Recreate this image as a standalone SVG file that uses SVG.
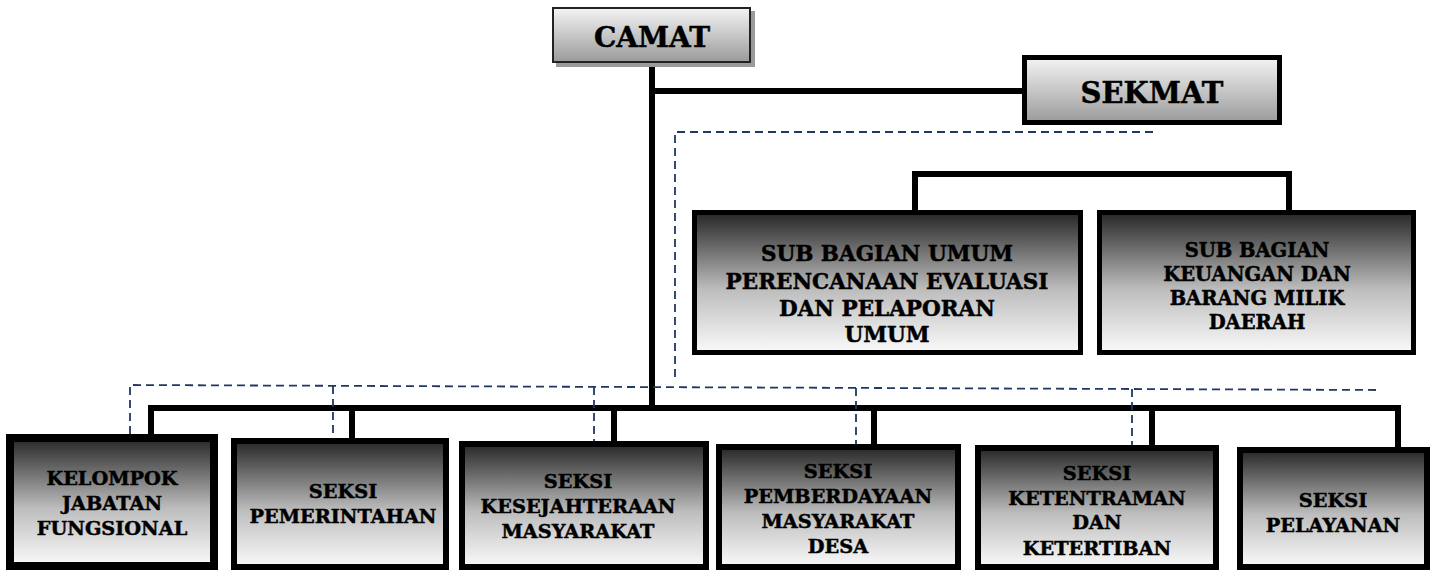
<svg xmlns="http://www.w3.org/2000/svg" width="1436" height="571" viewBox="0 0 1436 571">
<defs>
<linearGradient id="gLight" x1="0" y1="0" x2="0" y2="1">
<stop offset="0" stop-color="#f4f4f4"/>
<stop offset="1" stop-color="#9a9a9a"/>
</linearGradient>
<linearGradient id="gDark" x1="0" y1="0" x2="0" y2="1">
<stop offset="0" stop-color="#262626"/>
<stop offset="0.55" stop-color="#bdbdbd"/>
<stop offset="1" stop-color="#fafafa"/>
</linearGradient>
<style>
text{font-family:"DejaVu Serif","Liberation Serif",serif;font-weight:bold;fill:#000;stroke:#000;stroke-width:0.5;text-anchor:middle}
.box{fill:url(#gDark);stroke:#000}
.line{fill:none;stroke:#000;stroke-width:6;stroke-linejoin:miter;stroke-linecap:butt}
.dash{fill:none;stroke:#1f3864;stroke-width:1.8;stroke-dasharray:8 5}
.t1{font-size:28px}
.t2{font-size:21.5px}
.t3{font-size:19.5px}
.t4{font-size:19.3px}
</style>
</defs>
<g id="connectors">
<path class="line" d="M652,58 V408"/>
<path class="line" d="M652,91 H1024"/>
<path class="line" d="M915,212 V174 H1289 V212"/>
<path class="line" d="M151,455 V408 H1398 V460"/>
<path class="line" d="M352,408 V455"/>
<path class="line" d="M614,408 V455"/>
<path class="line" d="M874,408 V458"/>
<path class="line" d="M1152,408 V458"/>
<path class="dash" d="M675,377 V132 H1158"/>
<path class="dash" d="M130,460 V385 L1378,390"/>
<path class="dash" d="M333,386 V459"/>
<path class="dash" d="M594,387 V463"/>
<path class="dash" d="M856,388 V460"/>
<path class="dash" d="M1132,389 V460"/>
</g>
<g id="camat">
<rect x="556" y="11" width="199" height="56" fill="#9a9a9a"/>
<rect x="553" y="8" width="197" height="54" fill="url(#gLight)" stroke="#222" stroke-width="2"/>
<text class="t1" x="652" y="47">CAMAT</text>
</g>
<g id="sekmat">
<rect x="1024.5" y="57.5" width="255" height="65" fill="url(#gLight)" stroke="#000" stroke-width="5"/>
<text x="1152" y="103" style="font-size:29px">SEKMAT</text>
</g>
<g id="sub-umum">
<rect class="box" x="694.5" y="212.5" width="386" height="140" stroke-width="5"/>
<text class="t2" x="887" y="261">SUB BAGIAN UMUM</text>
<text class="t2" x="887" y="289">PERENCANAAN EVALUASI</text>
<text class="t2" x="887" y="316">DAN PELAPORAN</text>
<text class="t2" x="887" y="342">UMUM</text>
</g>
<g id="sub-keuangan">
<rect class="box" x="1099.5" y="212.5" width="314" height="140" stroke-width="5"/>
<text class="t3" x="1257" y="257">SUB BAGIAN</text>
<text class="t3" x="1257" y="281">KEUANGAN DAN</text>
<text class="t3" x="1257" y="305">BARANG MILIK</text>
<text class="t3" x="1257" y="329">DAERAH</text>
</g>
<g id="kelompok">
<rect class="box" x="10" y="438" width="204" height="128" stroke-width="8"/>
<text class="t4" x="112" y="485">KELOMPOK</text>
<text class="t4" x="112" y="510">JABATAN</text>
<text class="t4" x="112" y="535">FUNGSIONAL</text>
</g>
<g id="pemerintahan">
<rect class="box" x="234" y="441" width="212" height="126" stroke-width="6"/>
<text class="t4" x="343" y="498">SEKSI</text>
<text class="t4" x="343" y="523">PEMERINTAHAN</text>
</g>
<g id="kesejahteraan">
<rect class="box" x="462" y="444" width="244" height="123" stroke-width="6"/>
<text class="t4" x="578" y="488">SEKSI</text>
<text class="t4" x="578" y="513">KESEJAHTERAAN</text>
<text class="t4" x="578" y="538">MASYARAKAT</text>
</g>
<g id="pemberdayaan">
<rect class="box" x="719" y="447" width="239" height="120" stroke-width="6"/>
<text class="t4" x="838" y="478">SEKSI</text>
<text class="t4" x="838" y="503">PEMBERDAYAAN</text>
<text class="t4" x="838" y="528">MASYARAKAT</text>
<text class="t4" x="838" y="553">DESA</text>
</g>
<g id="ketentraman">
<rect class="box" x="978" y="448" width="238" height="119" stroke-width="6"/>
<text class="t4" x="1097" y="480">SEKSI</text>
<text class="t4" x="1097" y="505">KETENTRAMAN</text>
<text class="t4" x="1097" y="529">DAN</text>
<text class="t4" x="1097" y="555">KETERTIBAN</text>
</g>
<g id="pelayanan">
<rect class="box" x="1240" y="450" width="187" height="117" stroke-width="6"/>
<text class="t4" x="1333" y="507">SEKSI</text>
<text class="t4" x="1333" y="532">PELAYANAN</text>
</g>
</svg>
